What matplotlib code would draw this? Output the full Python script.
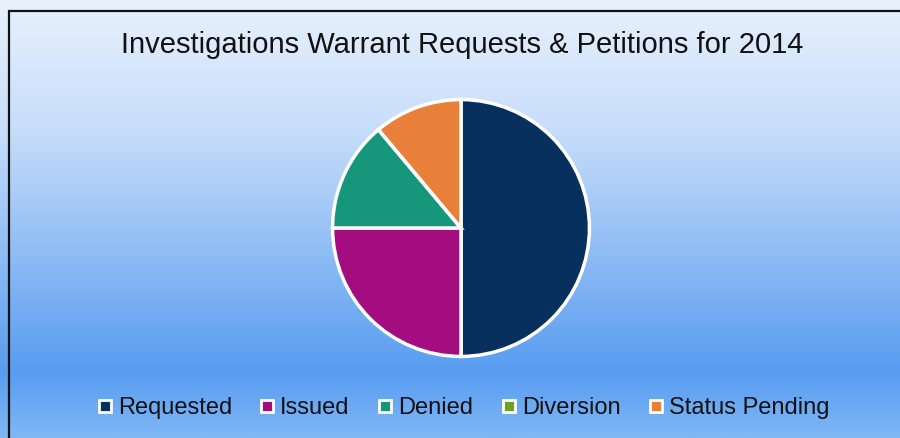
import matplotlib
matplotlib.use("Agg")
import matplotlib.pyplot as plt
import numpy as np
from matplotlib.colors import LinearSegmentedColormap
from matplotlib.lines import Line2D
from matplotlib.patches import Rectangle

categories = ["Requested", "Issued", "Denied", "Diversion", "Status Pending"]
values = [36, 18, 10, 0, 8]
colors = ["#07305F", "#A30D80", "#16967A", "#6FA022", "#E8803A"]
title = "Investigations Warrant Requests & Petitions for 2014"

W, H = 900, 438
fig = plt.figure(figsize=(W / 100, H / 100), dpi=100)

# background gradient
bg = fig.add_axes([0, 0, 1, 1])
cmap = LinearSegmentedColormap.from_list(
    "bg", [(0.0, "#E8F1FD"), (0.3, "#C6DDFA"), (0.85, "#589CF0"), (1.0, "#80B7F6")])
grad = np.linspace(0, 1, 256).reshape(-1, 1)
bg.imshow(grad, aspect="auto", cmap=cmap, extent=[0, 1, 0, 1], origin="upper")
bg.set_xlim(0, 1)
bg.set_ylim(0, 1)
bg.axis("off")
bg.add_patch(Rectangle((8.5 / W, -0.1), 1.2, 1.1 - 11 / H, fill=False,
                       edgecolor="#111111", linewidth=1.6, transform=bg.transAxes))

# pie
cx, cy, r = 461, 228, 131
ax = fig.add_axes([(cx - r) / W, (H - cy - r) / H, 2 * r / W, 2 * r / H])
ax.pie(values, colors=colors, startangle=90, counterclock=False,
       radius=1.0, wedgeprops=dict(edgecolor="white", linewidth=2.5))
ax.set_xlim(-1.02, 1.02)
ax.set_ylim(-1.02, 1.02)
ax.set_aspect("equal")
ax.axis("off")

fig.text(462 / W, 1 - 45 / H, title, ha="center", va="center",
         fontsize=21, family="Liberation Sans", color="#111111")

handles = [Line2D([0], [0], marker="s", linestyle="none", markersize=8.5,
                  markerfacecolor=c, markeredgecolor="white", markeredgewidth=2)
           for c in colors]
leg = fig.legend(handles, categories, loc="center", bbox_to_anchor=(464 / W, 1 - 408 / H),
                 ncol=5, frameon=False, handlelength=0.5,
                 handletextpad=0.3, columnspacing=1.25,
                 prop={"family": "Liberation Sans", "size": 17})
for t in leg.get_texts():
    t.set_color("#111111")

fig.savefig("out.png", dpi=100)
